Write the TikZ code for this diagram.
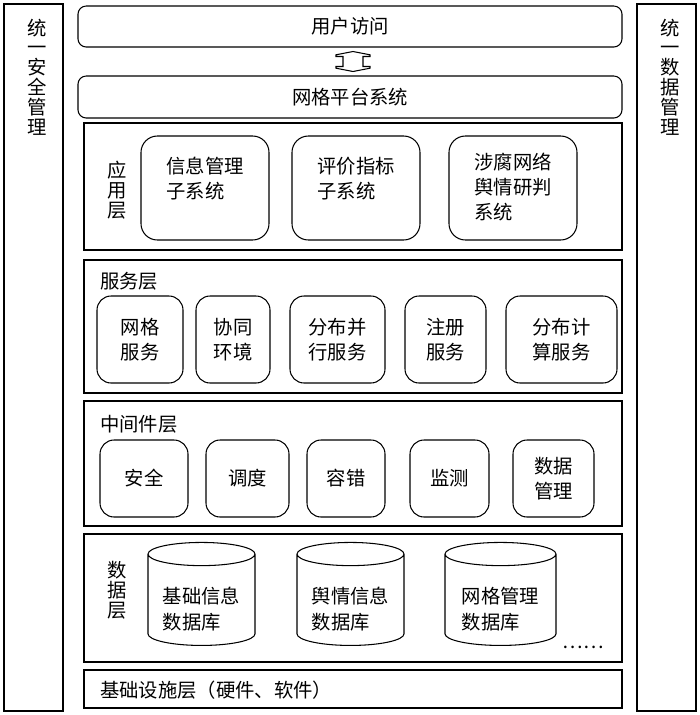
\documentclass[tikz,border=0pt]{standalone}
\usepackage{fontspec}
\newfontfamily\cjk{Noto Sans CJK SC}
\usetikzlibrary{shapes.geometric,calc}
\tikzset{
  side/.style={draw, line width=0.9pt, inner sep=0pt, minimum width=1.77cm, minimum height=21.21cm},
  vtext/.style={align=center, inner sep=0pt, text width=1em, font=\cjk\fontsize{16.5}{17}\selectfont},
  bar/.style={draw, line width=0.9pt, rounded corners=7pt, inner sep=0pt, minimum width=16.32cm},
  layer/.style={draw, line width=0.9pt, inner sep=0pt, minimum width=16.14cm},
  appbox/.style={draw, line width=0.9pt, rounded corners=14pt, inner sep=0pt, minimum width=3.84cm, minimum height=3.12cm},
  apptext/.style={align=left, inner sep=0pt, anchor=north, font=\cjk\fontsize{16.5}{21.5}\selectfont},
  srvbox/.style={draw, line width=0.9pt, rounded corners=12pt, inner sep=0pt, minimum height=2.61cm, align=center},
  midbox/.style={draw, line width=0.9pt, rounded corners=12pt, inner sep=0pt, minimum height=2.31cm, align=center},
  dbbox/.style={draw, line width=0.9pt, cylinder, shape border rotate=90, aspect=0.3, inner sep=0pt, minimum height=3.09cm, align=left}
}
\begin{document}
\begin{tikzpicture}[x=0.03cm, y=-0.03cm, font=\cjk\fontsize{16.5}{21.5}\selectfont]
\useasboundingbox (0,0) rectangle (700,715);

\node[side] (secbox) at (33.5,357.5) {};
\node[vtext, anchor=north] (sectxt) at ([yshift=-0.45cm]secbox.north) {统\\一\\安\\全\\管\\理};
\node[side] (datbox) at (666.5,357.5) {};
\node[vtext, anchor=north] (dattxt) at ([yshift=-0.45cm]datbox.north) {统\\一\\数\\据\\管\\理};

\node[bar, minimum height=1.23cm] (user) at (350,26.5) {用户访问};
\node[bar, minimum height=1.26cm] (grid) at (350,97) {网格平台系统};
\coordinate (acc) at ($($(user.south)!0.5!(grid.north)$)+(3,0)$);
\draw[line width=0.9pt] (acc) ++(0,-10) -- ++(17,3.3) -- ++(0,1.7) -- ++(-7,0) -- ++(0,10)
  -- ++(7,0) -- ++(0,1.7) -- ++(-17,3.3) -- ++(-17,-3.3) -- ++(0,-1.7) -- ++(7,0)
  -- ++(0,-10) -- ++(-7,0) -- ++(0,-1.7) -- cycle;

\node[layer, minimum height=3.81cm] (applayer) at (353,186.5) {};
\node[vtext] (applbl) at (113,190) {应\\用\\层};
\node[appbox] (info) at (205,188) {};
\node[apptext] (infotxt) at ([yshift=-0.65cm]info.north) {信息管理\\子系统};
\node[appbox] (eval) at (356,188) {};
\node[apptext] (evaltxt) at ([yshift=-0.65cm]eval.north) {评价指标\\子系统};
\node[appbox] (risk) at (513,188) {};
\node[apptext] (risktxt) at ([yshift=-0.52cm]risk.north) {涉腐网络\\舆情研判\\系统};

\node[layer, minimum height=3.99cm] (srvlayer) at (353,326.5) {};
\node[anchor=west, inner sep=0pt] (srvlbl) at (100,281) {服务层};
\node[srvbox, minimum width=2.58cm] (gridsrv) at (140,339.5) {网格\\服务};
\node[srvbox, minimum width=2.22cm] (coop) at (233,339.5) {协同\\环境};
\node[srvbox, minimum width=2.85cm] (para) at (337.5,339.5) {分布并\\行服务};
\node[srvbox, minimum width=2.43cm] (reg) at (445.5,339.5) {注册\\服务};
\node[srvbox, minimum width=3.33cm] (dist) at (561.5,339.5) {分布计\\算服务};

\node[layer, minimum height=3.75cm] (midlayer) at (353,463.5) {};
\node[anchor=west, inner sep=0pt] (midlbl) at (100,424) {中间件层};
\node[midbox, minimum width=2.64cm] (safe) at (144,478.5) {安全};
\node[midbox, minimum width=2.49cm] (sched) at (247.5,478.5) {调度};
\node[midbox, minimum width=2.34cm] (fault) at (346,478.5) {容错};
\node[midbox, minimum width=2.37cm] (mon) at (449.5,478.5) {监测};
\node[midbox, minimum width=2.43cm] (dman) at (553.5,478.5) {数据\\管理};

\node[layer, minimum height=3.84cm] (datlayer) at (353,598) {};
\node[vtext] (datlbl) at (113,590) {数\\据\\层};
\node[dbbox, minimum width=3.21cm] (db1) at (201.5,600) {\mbox{}\\[8pt]基础信息\\数据库};
\node[dbbox, minimum width=3.21cm] (db2) at (350.5,600) {\mbox{}\\[8pt]舆情信息\\数据库};
\node[dbbox, minimum width=3.33cm] (db3) at (500.5,600) {\mbox{}\\[8pt]网格管理\\数据库};
\node[inner sep=0pt] (more) at (583,647) {……};

\node[layer, minimum height=1.14cm] (infra) at (353,689) {};
\node[anchor=west, inner sep=0pt] (infralbl) at (100,690) {基础设施层（硬件、软件）};
\end{tikzpicture}
\end{document}
